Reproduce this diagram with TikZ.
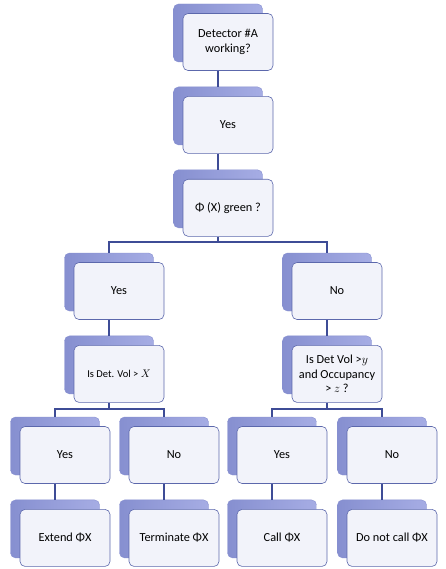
\documentclass[tikz,border=0pt]{standalone}
\usepackage{fontspec}
\setmainfont{Carlito}
\usetikzlibrary{positioning}

\definecolor{linkblue}{RGB}{62,76,150}
\definecolor{backblue}{RGB}{166,173,228}
\definecolor{backdark}{RGB}{134,143,208}
\definecolor{frontfill}{RGB}{242,243,250}
\definecolor{frontline}{RGB}{92,104,172}

\begin{document}
\begin{tikzpicture}[
  x=1pt, y=-1pt,
  node distance=24.5pt and 20pt,
  back/.style={draw=backdark, line width=0.4pt, rounded corners=5pt, minimum width=89pt, minimum height=58pt, left color=backdark, right color=backblue},
  front/.style={draw=frontline, line width=0.6pt, rounded corners=5pt, fill=frontfill, align=center, minimum width=90pt, minimum height=57pt, xshift=10pt, yshift=-9pt, font=\fontsize{12.3}{14.5}\selectfont},
  link/.style={draw=linkblue, line width=1.6pt}
]
\useasboundingbox (0,0) rectangle (446,569);

% main chain
\node[back] (b0) at (218,33) {};
\node[front] (f0) at (b0) {Detector \#A\\working?};
\node[back, below=of b0] (b1) {};
\node[front] (f1) at (b1) {Yes};
\node[back, below=of b1] (b2) {};
\node[front] (f2) at (b2) {Φ (X) green ?};

% first split
\node[back] (b3l) at (109,282) {};
\node[front] (f3l) at (b3l) {Yes};
\node[back] (b3r) at (327,282) {};
\node[front] (f3r) at (b3r) {No};
\node[back, below=of b3l] (b4l) {};
\node[front, font=\fontsize{10.5}{13}\selectfont] (f4l) at (b4l) {Is Det. Vol > $X$};
\node[back, below=of b3r] (b4r) {};
\node[front] (f4r) at (b4r) {Is Det Vol >$y$\\and Occupancy\\> $z$ ?};

% second split
\node[back] (b5a) at (55,446) {};
\node[front] (f5a) at (b5a) {Yes};
\node[back] (b5b) at (164,446) {};
\node[front] (f5b) at (b5b) {No};
\node[back] (b5c) at (272,446) {};
\node[front] (f5c) at (b5c) {Yes};
\node[back] (b5d) at (382,446) {};
\node[front] (f5d) at (b5d) {No};
\node[back, below=of b5a] (b6a) {};
\node[front] (f6a) at (b6a) {Extend ΦX};
\node[back, below=of b5b] (b6b) {};
\node[front] (f6b) at (b6b) {Terminate ΦX};
\node[back, below=of b5c] (b6c) {};
\node[front] (f6c) at (b6c) {Call ΦX};
\node[back, below=of b5d] (b6d) {};
\node[front] (f6d) at (b6d) {Do not call ΦX};

% connectors
\coordinate (j2) at (218,242);
\coordinate (j4l) at (109,409);
\coordinate (j4r) at (327,409);
\draw[link] (b0 |- f0.south) -- (b1);
\draw[link] (b1 |- f1.south) -- (b2);
\draw[link] (b2 |- f2.south) -- (j2);
\draw[link] (b3l) |- (j2) -| (b3r);
\draw[link] (b3l |- f3l.south) -- (b4l);
\draw[link] (b3r |- f3r.south) -- (b4r);
\draw[link] (b4l |- f4l.south) -- (j4l);
\draw[link] (b5a) |- (j4l) -| (b5b);
\draw[link] (b4r |- f4r.south) -- (j4r);
\draw[link] (b5c) |- (j4r) -| (b5d);
\draw[link] (b5a |- f5a.south) -- (b6a);
\draw[link] (b5b |- f5b.south) -- (b6b);
\draw[link] (b5c |- f5c.south) -- (b6c);
\draw[link] (b5d |- f5d.south) -- (b6d);
\end{tikzpicture}
\end{document}
